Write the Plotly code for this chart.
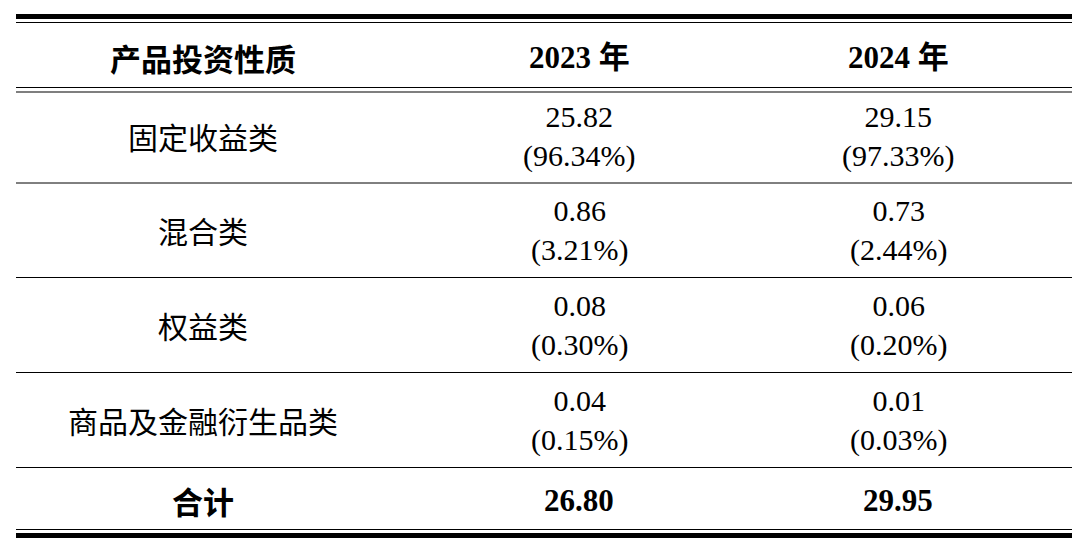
import plotly.graph_objects as go

header = ["产品投资性质", "2023 年", "2024 年"]
categories = ["固定收益类", "混合类", "权益类", "商品及金融衍生品类"]
values_2023 = ["25.82", "0.86", "0.08", "0.04"]
share_2023 = ["(96.34%)", "(3.21%)", "(0.30%)", "(0.15%)"]
values_2024 = ["29.15", "0.73", "0.06", "0.01"]
share_2024 = ["(97.33%)", "(2.44%)", "(0.20%)", "(0.03%)"]
total_label = "合计"
totals = ["26.80", "29.95"]

W, H = 1080, 549
OFF = 8  # page body margin
col_x = [195, 571, 890]
row_y = [136, 230, 325, 420]
header_y = 57
total_y = 500

cjk = "Noto Sans CJK SC"
serif = "Liberation Serif"

fig = go.Figure()
fig.add_trace(go.Scatter(x=[0], y=[0], mode="markers", marker_opacity=0, hoverinfo="skip"))

def txt(x, y, s, font, size, bold=False):
    fig.add_annotation(x=x, y=y - OFF, text=f"<b>{s}</b>" if bold else s, showarrow=False,
                       font=dict(family=font, size=size, color="black"), xanchor="center", yanchor="middle")

for i, h in enumerate(header):
    if i == 0:
        txt(col_x[i], header_y, h, cjk, 31, True)
    else:
        txt(col_x[i], header_y, h, f"{serif}, {cjk}", 31, True)

for i, c in enumerate(categories):
    txt(col_x[0], row_y[i], c, cjk, 30)
    txt(col_x[1], row_y[i], f"{values_2023[i]}<br>{share_2023[i]}", serif, 30)
    txt(col_x[2], row_y[i], f"{values_2024[i]}<br>{share_2024[i]}", serif, 30)

txt(col_x[0], total_y, total_label, cjk, 31, True)
txt(col_x[1], total_y, totals[0], serif, 31, True)
txt(col_x[2], total_y, totals[1], serif, 31, True)

def hline(y, w):
    fig.add_shape(type="line", x0=8, x1=1072, y0=y - OFF, y1=y - OFF, line=dict(color="black", width=w))

hline(16.5, 5); hline(22.5, 1.2)
hline(87.5, 1.2); hline(92, 1.2)
for y in [183, 277.5, 372.5, 467.5]:
    hline(y, 1)
hline(529.5, 1.2); hline(535.5, 5)

fig.update_layout(width=W, height=H, margin=dict(l=0, r=0, t=0, b=0),
                  plot_bgcolor="white", paper_bgcolor="white", showlegend=False,
                  xaxis=dict(range=[0, W], visible=False, fixedrange=True),
                  yaxis=dict(range=[H, 0], visible=False, fixedrange=True))
fig.write_html("out.html")
